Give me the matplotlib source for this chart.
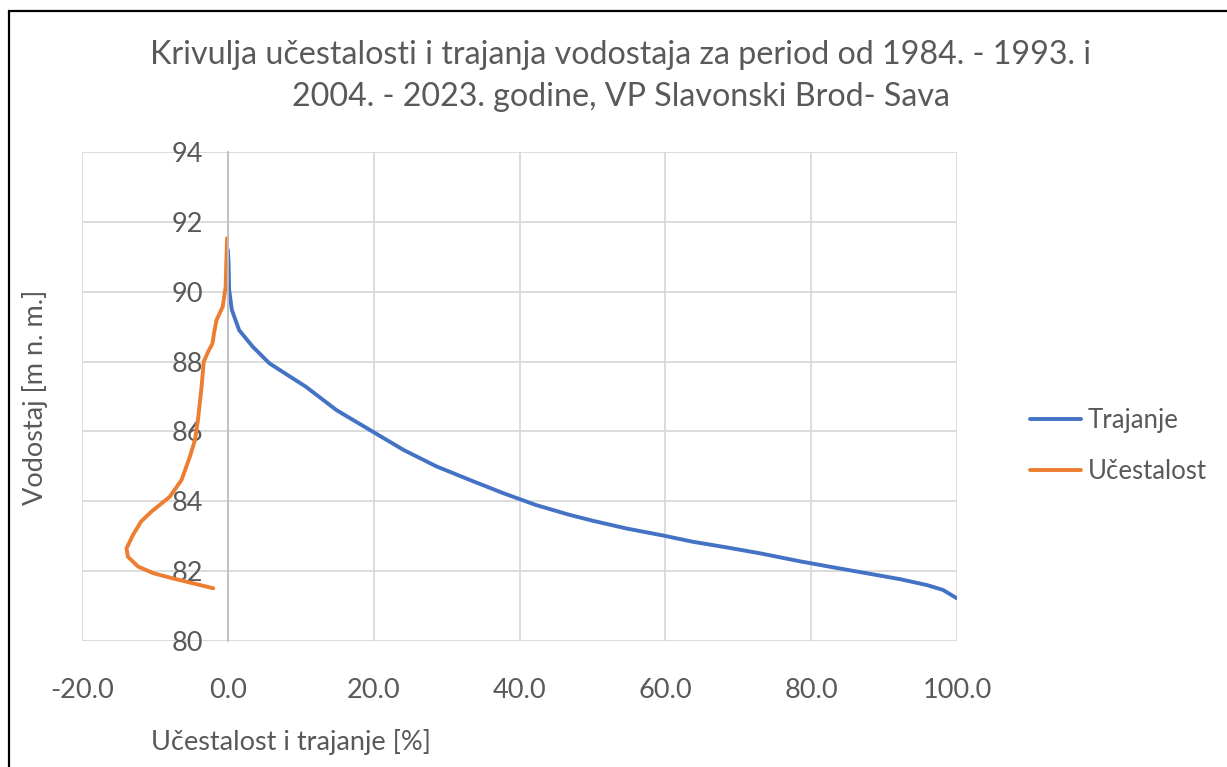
import numpy as np
import matplotlib.pyplot as plt
from matplotlib.patches import Rectangle

# Trajanje (duration curve) - % of time vs water level
traj_x = [0.0, 0.1, 0.18, 0.55, 1.55, 3.4, 5.7, 8.9, 10.7, 14.9, 19.5, 24.1, 28.6,
          33.2, 37.8, 42.3, 46.9, 50.1, 54.7, 59.7, 63.8, 68.4, 73.0, 78.5, 83.0,
          87.6, 92.2, 95.9, 98.1, 99.6, 100.0]
traj_y = [91.2, 90.81, 90.05, 89.48, 88.9, 88.43, 87.95, 87.52, 87.28, 86.61, 86.04, 85.47, 85.0,
          84.61, 84.23, 83.89, 83.61, 83.44, 83.22, 83.02, 82.84, 82.68, 82.51, 82.28, 82.11,
          81.94, 81.77, 81.6, 81.46, 81.27, 81.22]

# Ucestalost (frequency curve), drawn as negative values
uces_x = [-0.1, -0.2, -0.3, -0.7, -1.55, -1.9, -2.1, -2.7, -3.3, -3.6, -4.1, -4.5,
          -5.2, -6.35, -7.96, -10.5, -11.9, -13.0, -13.9, -13.7, -12.3, -10.2, -7.5, -4.75, -2.0]
uces_y = [91.53, 90.9, 90.14, 89.57, 89.19, 88.81, 88.52, 88.28, 88.0, 87.28, 86.33, 85.76,
          85.28, 84.61, 84.13, 83.7, 83.42, 83.04, 82.65, 82.41, 82.13, 81.94, 81.79, 81.65, 81.51]

x_ticks = [-20, 0, 20, 40, 60, 80, 100]
y_ticks = [80, 82, 84, 86, 88, 90, 92, 94]

txt = '#595959'
grid = '#d9d9d9'
plt.rcParams['font.family'] = ['Lato', 'DejaVu Sans']

fig = plt.figure(figsize=(12.27, 7.67), dpi=100)
ax = fig.add_axes([82/1227, 1-641/767, (957-82)/1227, (641-152)/767])

ax.plot(traj_x, traj_y, color='#4472C4', lw=2.8, label='Trajanje',
        solid_capstyle='round', solid_joinstyle='round')
ax.plot(uces_x, uces_y, color='#ED7D31', lw=2.8, label='Učestalost',
        solid_capstyle='round', solid_joinstyle='round')

ax.set_xlim(-20, 100)
ax.set_ylim(80, 94)
ax.set_xticks(x_ticks)
ax.set_yticks(y_ticks)
ax.set_xticklabels(['%.1f' % v for v in x_ticks])
ax.grid(True, color=grid, lw=1.3)
ax.set_axisbelow(True)
for s in ['top', 'right', 'bottom']:
    ax.spines[s].set_visible(False)
ax.spines['left'].set_position(('data', 0))
ax.spines['left'].set_color('#bfbfbf')
ax.spines['left'].set_linewidth(1.3)
ax.tick_params(axis='both', length=0, labelsize=19.5, colors=txt)
ax.tick_params(axis='x', pad=27)
ax.tick_params(axis='y', pad=18)

fig.text(0.506, 1-55/767, 'Krivulja učestalosti i trajanja vodostaja za period od 1984. - 1993. i',
         ha='center', va='center', fontsize=23.2, color=txt)
fig.text(0.506, 1-97/767, '2004. - 2023. godine, VP Slavonski Brod- Sava',
         ha='center', va='center', fontsize=23.2, color=txt)
fig.text(291/1227, 1-742/767, 'Učestalost i trajanje [%]', ha='center', va='center',
         fontsize=19.5, color=txt)
fig.text(35/1227, 1-397/767, 'Vodostaj [m n. m.]', ha='center', va='center',
         rotation=90, fontsize=19.5, color=txt)

leg = fig.legend(loc='center left', bbox_to_anchor=(1030/1227, 1-446/767), frameon=False,
                 fontsize=18.5, handlelength=2.0, handletextpad=0.25, labelspacing=1.0,
                 borderpad=0, borderaxespad=0)
for t in leg.get_texts():
    t.set_color(txt)

# border of the chart area
fig.patches.append(Rectangle((9/1227, -0.1), 1.2, 1.1 - 11/767, transform=fig.transFigure,
                             fill=False, edgecolor='black', lw=1.6))

fig.savefig('out.png', dpi=100)
